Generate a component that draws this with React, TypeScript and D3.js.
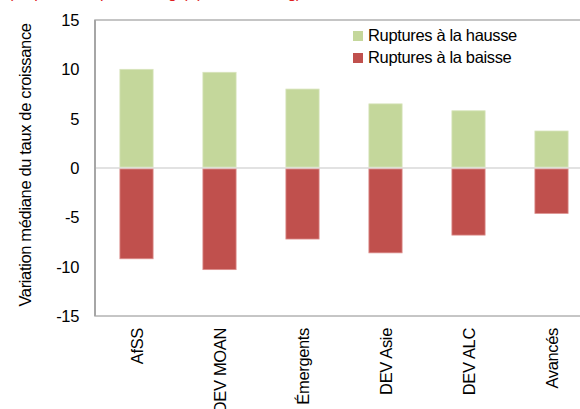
import React from "react";
import * as d3 from "d3";

const categories = ["AfSS", "DEV MOAN", "Émergents", "DEV Asie", "DEV ALC", "Avancés"];
const hausse = [10.0, 9.7, 8.0, 6.5, 5.8, 3.75];
const baisse = [-9.2, -10.3, -7.2, -8.6, -6.8, -4.6];
const yTicks = [15, 10, 5, 0, -5, -10, -15];
const seriesNames = ["Ruptures à la hausse", "Ruptures à la baisse"];
const yTitle = "Variation médiane du taux de croissance";

const W = 580;
const H = 409;
const FONT = "'Liberation Sans', Arial, sans-serif";
const FS = 16.5;
const LS = -0.35;

export default function App() {
  const left = 95, top = 20, bottom = 316, right = 593;
  const x = d3.scaleBand<string>().domain(categories).range([left, right]).paddingInner(0.6).paddingOuter(0.3);
  const y = d3.scaleLinear().domain([-15, 15]).range([bottom, top]);
  const bw = x.bandwidth();
  const green = "#c4d79b";
  const red = "#c0504d";
  return (
    <svg width={W} height={H} style={{ position: "fixed", left: 0, top: 0, background: "#fff" }} fontFamily={FONT} letterSpacing={LS}>
      <rect x={0} y={0} width={W} height={H} fill="#fff" />
      <text x={8} y={-2.5} fill="#e02020" fontSize={16}>(en points de pourcentage) (médiane, en g)</text>
      {/* zero line */}
      <line x1={left} x2={right} y1={y(0)} y2={y(0)} stroke="#d9d9d9" strokeWidth={1.5} />
      {categories.map((c, i) => (
        <g key={c}>
          <rect x={x(c)} y={y(hausse[i])} width={bw} height={y(0) - y(hausse[i]) - 1} fill={green} stroke="#d8e4bc" strokeWidth={0.8} />
          <rect x={x(c)} y={y(0) + 1} width={bw} height={y(baisse[i]) - y(0) - 1} fill={red} stroke="#dc8f8d" strokeWidth={0.8} />
        </g>
      ))}
      {/* plot border */}
      <rect x={left} y={top} width={right - left} height={bottom - top} fill="none" stroke="#b3b3b3" strokeWidth={1.5} />
      <line x1={left} x2={left} y1={top} y2={bottom} stroke="#a6a6a6" strokeWidth={2} />
      {yTicks.map((t) => (
        <text key={t} x={79} y={y(t)} dy="0.36em" textAnchor="end" fontSize={FS} fill="#000">{t}</text>
      ))}
      <text transform={`translate(31,165) rotate(-90)`} textAnchor="middle" fontSize={FS} fill="#000">{yTitle}</text>
      {categories.map((c) => (
        <text key={c} transform={`translate(${(x(c) as number) + bw / 2 + 6},328) rotate(-90)`} textAnchor="end" fontSize={FS} fill="#000">{c}</text>
      ))}
      {/* legend */}
      {seriesNames.map((s, i) => (
        <g key={s} transform={`translate(353,${31 + i * 22})`}>
          <rect x={0} y={0} width={10} height={10} fill={i === 0 ? green : red} />
          <text x={15} y={10} fontSize={FS} fill="#000">{s}</text>
        </g>
      ))}
    </svg>
  );
}
